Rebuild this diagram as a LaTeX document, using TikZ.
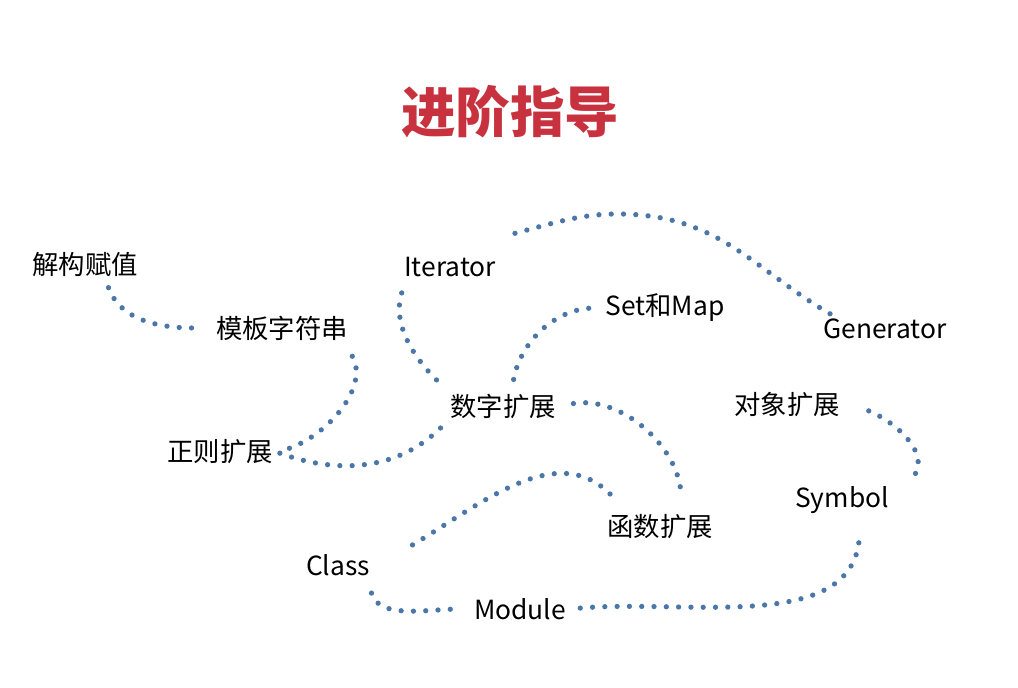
\documentclass[tikz,border=0pt]{standalone}
\usepackage{fontspec}
\setmainfont{Noto Sans CJK SC}
\usetikzlibrary{positioning}
\definecolor{titlered}{HTML}{C8323F}
\definecolor{dotblue}{HTML}{4A76A8}
\tikzset{
    topic/.style={font=\fontsize{15}{18}\selectfont, inner sep=2pt},
    link/.style={draw=dotblue, line width=3pt, line cap=round, dash pattern=on 0pt off 7pt},
}
\begin{document}
\begin{tikzpicture}[x=0.02cm, y=-0.02cm]
    \useasboundingbox (0,0) rectangle (1018,688);
    % 标题
    \node[font=\fontsize{31}{36}\selectfont\bfseries, text=titlered] (title) at (510,112) {进阶指导};
    % 各个主题
    \node[topic] (jg) at (85,265) {解构赋值};
    \node[topic] (mb) at (282,328) {模板字符串};
    \node[topic] (it) at (450,267) {Iterator};
    \node[topic] (sm) at (665,308) {Set和Map};
    \node[topic] (ge) at (885,329) {Generator};
    \node[topic] (sz) at (503,406) {数字扩展};
    \node[topic] (dx) at (787,405) {对象扩展};
    \node[topic] (zz) at (220,452) {正则扩展};
    \node[topic] (sy) at (842,500) {Symbol};
    \node[topic] (hs) at (660,527) {函数扩展};
    \node[topic] (cl) at (338,565) {Class};
    \node[topic] (mo) at (520,609) {Module};
    % 连线
    \draw[link, shorten <=4pt, shorten >=10pt] ([xshift=12]jg.south) to[out=-70, in=180] (mb.west);
    \draw[link, shorten <=8pt, shorten >=4pt] ([xshift=36]mb.south) to[out=-60, in=15] (zz.east);
    \draw[link, shorten <=2pt, shorten >=4pt] (zz.east) to[out=-20, in=-135] (sz.south west);
    \draw[link, shorten <=8pt, shorten >=6pt] (sz.north west) to[out=135, in=-110] ([xshift=-25]it.south);
    \draw[link] ([shift={(65,-20)}]it.north) to[out=15, in=175] (640,215) to[out=-5, in=150] ([xshift=-30]ge.north);
    \draw[link, shorten <=6pt, shorten >=4pt] ([xshift=5]sz.north) to[out=80, in=180] (sm.west);
    \draw[link, shorten <=8pt, shorten >=8pt] (sz.east) to[out=10, in=90] ([xshift=12]hs.north);
    \draw[link, shorten <=4pt, shorten >=2pt] ([shift={(-45,-12)}]hs.north) to[out=135, in=30] ([xshift=37]cl.north);
    \draw[link, shorten <=8pt, shorten >=6pt] ([xshift=17]cl.south) to[out=-75, in=180] (mo.west);
    \draw[link, shorten <=6pt, shorten >=8pt] (mo.east) to[out=5, in=-90] ([xshift=10]sy.south);
    \draw[link, shorten <=6pt, shorten >=8pt] ([xshift=10]sy.north east) to[out=60, in=-10] (dx.east);
\end{tikzpicture}
\end{document}
